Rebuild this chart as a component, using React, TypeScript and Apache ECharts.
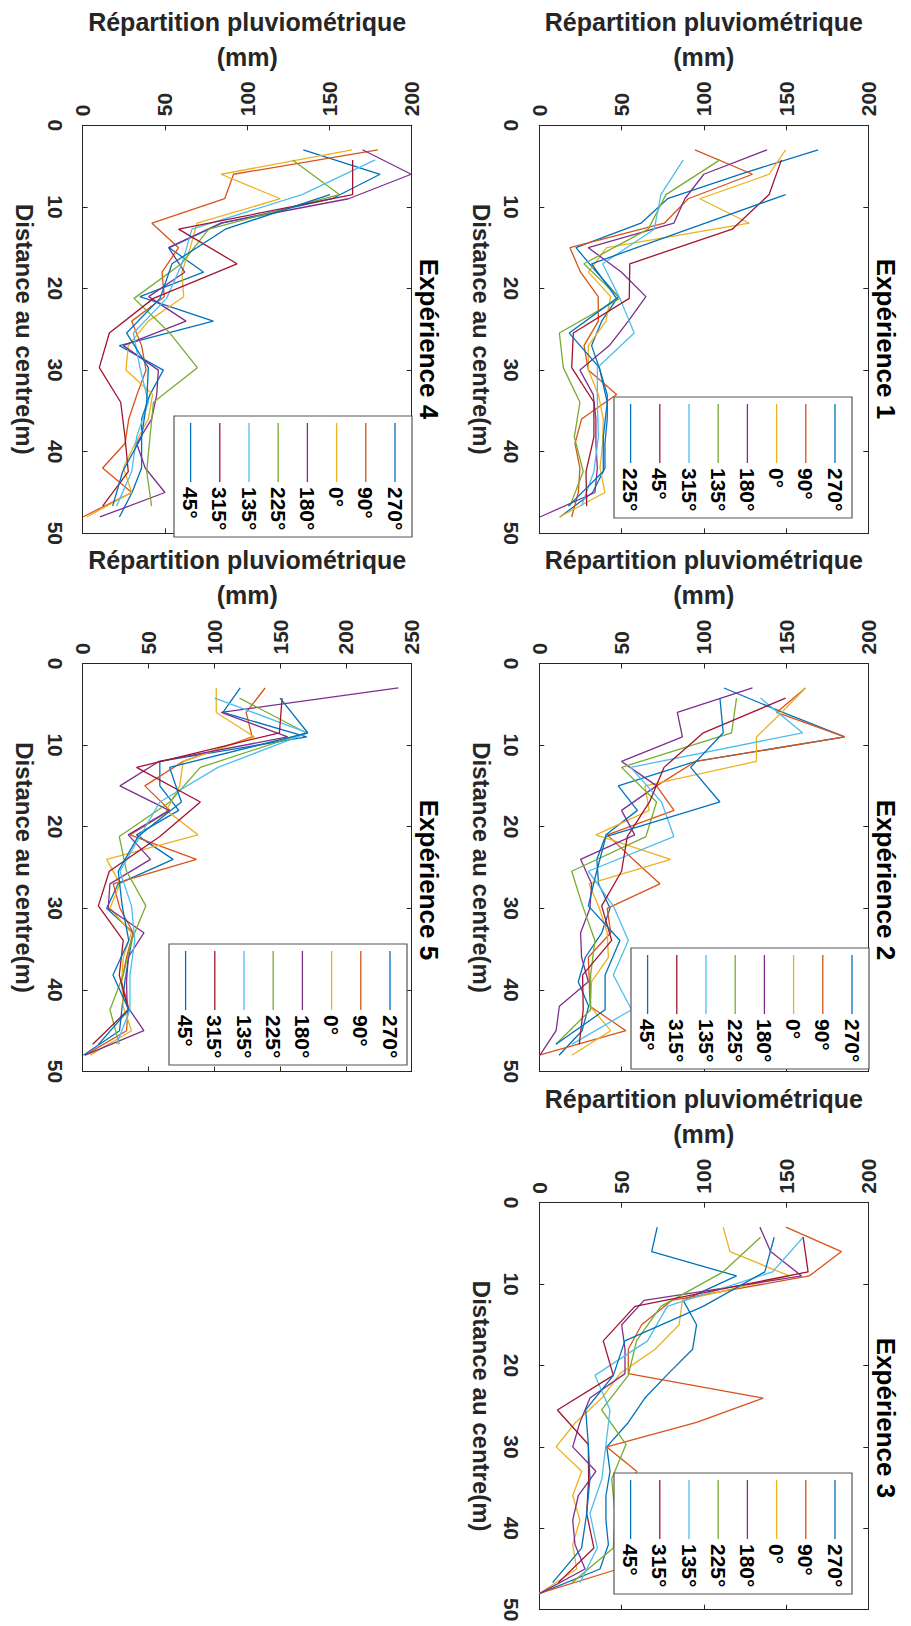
import React, { useEffect, useRef } from 'react';
import * as echarts from 'echarts';

// Distances (m) of the gauges: cardinal directions every 3 m, diagonal directions every 3·√2 m
const cardinalDistances = [3, 6, 9, 12, 15, 18, 21, 24, 27, 30, 33, 36, 39, 42, 45, 48];
const diagonalDistances = [4.24, 8.49, 12.73, 16.97, 21.21, 25.46, 29.7, 33.94, 38.18, 42.43, 46.67];

// Expérience 1 (mm)
const exp1_270 = [169.5, 122, 78, 61.8, 22.3, 34.8, 48, 37.9, 31.8, 36.9, 41.3, 41.3, 39.9, 39.9, 32.4, 12.6];
const exp1_90 = [94.6, 129.6, 90.5, 76, 18.6, 25.1, 35.8, 35.9, 27.2, 29.8, 47, 25.7, 21.7, 24.7, 23.7, 19.7];
const exp1_0 = [149.7, 139.7, 97.6, 127.6, 40.9, 29.8, 43.4, 40.5, 29.8, 29.8, 35.9, 38.9, 38.5, 36.9, 39.9, 12.2];
const exp1_180 = [138.5, 100, 88.5, 81.8, 29.8, 50, 64.8, 54.1, 42.6, 24.7, 32.8, 34.4, 34.4, 35.3, 33.8, 0.4];
const exp1_135 = [109.8, 77, 66.2, 27.1, 49, 12.2, 14.6, 24.7, 21.3, 26.7, 18.6];
const exp1_315 = [87.5, 73.9, 69.9, 38.5, 49, 57.7, 35.3, 35.3, 35.9, 33.2, 25.7];
const exp1_45 = [147.2, 139.7, 117.3, 55, 54.7, 20.7, 19.7, 33.2, 33.2, 28.4, 28.8];
const exp1_225 = [null, 149.7, 90.7, 31.8, 47, 18.2, 36.5, 41.3, 38.9, 38.9, 17.6];

// Expérience 2
const exp2_270 = [112.3, 148, 185.7, 95, 48, 59.6, 40.5, 35, 36, 43, 38, 28, 23.7, 30, 26, 12];
const exp2_90 = [161.8, 144.2, 185.7, 95, 71.3, 81.9, 41.3, 57, 73.3, 41.3, 43.4, 29.8, 30.4, 30.8, 52.7, 0];
const exp2_0 = [161.8, 147.3, 132, 132, 64.2, 66.8, 34.4, 79.8, 30.2, 36.5, 41.3, 42, 31.8, 30.8, 43.4, 19.7];
const exp2_180 = [129.6, 83.9, 87, 50, 71.3, 50, 58, 25.1, 31.8, 30.8, 25.1, 25.7, 29.8, 12.2, 10.2, 0.4];
const exp2_225 = [119.9, 116.9, 50, 71.3, 64.8, 19.7, 26.3, 33.8, 31.2, 31.2, 10.1];
const exp2_135 = [134.5, 160, 55.5, 74.3, 81.8, 29.8, 45, 54.1, 45, 56.1, 19.7];
const exp2_315 = [149.7, 99.7, 75.8, 67, 53.5, 50, 37.9, 44, 26.3, 26.7, 24.3];
const exp2_45 = [109.8, 111.8, 92, 109.8, 40.5, 34.9, 29.8, 49, 40, 40, 10.1];

// Expérience 3
const exp3_270 = [71.7, 68.3, 119.9, 87.5, 95.6, 93.2, 78.4, 64.2, 54.1, 41, 43, 40.5, 40.5, 42, 36.9, 0.4];
const exp3_90 = [149.9, 183.7, 164.1, 80.5, 62.2, 54.1, 54.1, 136.1, 95.6, 41, 59.2, 55, 52, 50, 48, 0];
const exp3_0 = [111.8, 115.9, 152, 87, 85, 70.4, 49, 38, 22, 10.2, 25.8, 20.3, 24.7, 20.3, 22.7, 0];
const exp3_180 = [134.1, 140.6, 159.5, 63.7, 50.1, 52.1, 52.1, 30.8, 24.7, 20.3, 34.4, 23.7, 20.3, 21.7, 27.8, 0.4];
const exp3_225 = [134.5, 111.8, 73.9, 59.1, 54.1, 37.9, 52.7, 44, 46, 45, 20];
const exp3_135 = [160.4, 141.8, 77.8, 65.8, 33.8, 43, 40.5, 38, 30.8, 35.3, 24.7];
const exp3_315 = [160.4, 163.4, 58.1, 38.9, 45, 11, 29.8, 30, 28.8, 33.2, 11.6];
const exp3_45 = [142.8, 137.1, 99.6, 52, 45, 28.2, 29.8, 30.8, 28.8, 25.7, 8.1];

// Expérience 4
const exp4_270 = [134.1, 180.8, 151.5, 84.6, 52.6, 73.5, 34.8, 79.4, 22.3, 49, 40.9, 35.8, 35.8, 35.8, 30, 22.3];
const exp4_90 = [179.4, 91.7, 86.3, 42.1, 58.3, 48.2, 49.6, 29.8, 35.8, 38.5, 33, 28, 25.7, 12.1, 29.8, 0];
const exp4_0 = [163.6, 84.2, 120.1, 69.5, 65.4, 60.3, 61.4, 39.9, 27.7, 26.3, 42.5, 39.9, 31.8, 24.7, 29.8, 2.4];
const exp4_180 = [170.1, 199.7, 161.6, 83.6, 52.2, 62, 40.1, 62.8, 24.7, 46, 45, 41.9, 32.8, 38, 50, 10.5];
const exp4_225 = [127.6, 156, 76.6, 60, 31.2, 53, 69.7, 43, 40.9, 38.9, 41.9];
const exp4_135 = [177.8, 133.3, 66.4, 60.3, 51, 30.8, 34.8, 39.9, 32.8, 29.8, 20.6];
const exp4_315 = [164.1, 164.1, 58.3, 93.8, 43, 16.2, 10.1, 23.1, 25.7, 27.7, 12.1];
const exp4_45 = [null, 150.3, 86.7, 54.3, 47, 26.7, 39.9, 38.9, 35.8, 24.3, 18.2];

// Expérience 5
const exp5_270 = [119.7, 106.6, 170.2, 58.6, 58.6, 73, 40.9, 68.7, 27, 18.2, 38.4, 35, 32, 30, 28, 0.5];
const exp5_90 = [138.6, 124.2, 128.8, 76.3, 47.2, 66.2, 35.9, 86.4, 23.2, 28.3, 38.4, 33.3, 29.5, 34.6, 33.3, 1.8];
const exp5_0 = [101.5, 101.5, 130.6, 76.3, 73.7, 63.6, 87.6, 18.2, 28.3, 20.7, 37.1, 30.8, 29.5, 30.8, 37.1, 5.6];
const exp5_180 = [239.9, 105.3, 155.8, 58, 28.3, 65.7, 34.6, 51.5, 20.7, 19.4, 46.5, 34.6, 33.3, 33.8, 46.5, 1.8];
const exp5_225 = [119.2, 169.7, 89.4, 66.2, 27.8, 33.3, 48, 37.1, 30.8, 20.7, 27.8];
const exp5_135 = [100.3, 171, 102.8, 58.6, 43.4, 28.3, 37.1, 39.6, 35.9, 35.9, 25.8];
const exp5_315 = [151.5, 149.5, 40.9, 89.4, 58.6, 20.2, 11.9, 30.8, 27.8, 34.6, 7.6];
const exp5_45 = [150, 171, 66, 75, 42, 27, 30, 35, 23, 35, 12];

const titles = ['Expérience 1', 'Expérience 2', 'Expérience 3', 'Expérience 4', 'Expérience 5'];
const rainAxisName = 'Répartition pluviométrique\n(mm)';
const distanceAxisName = 'Distance au centre(m)';
const rainMaxima = [200, 200, 200, 200, 250];

const C_BLUE = '#0072BD';
const C_ORANGE = '#D95319';
const C_YELLOW = '#EDB120';
const C_PURPLE = '#7E2F8E';
const C_GREEN = '#77AC30';
const C_LIGHTBLUE = '#4DBEEE';
const C_DARKRED = '#A2142F';

type S = { name: string; values: (number | null)[]; diag: boolean; color: string };

const panelSeries: S[][] = [
  [
    { name: '270°', values: exp1_270, diag: false, color: C_BLUE },
    { name: '90°', values: exp1_90, diag: false, color: C_ORANGE },
    { name: '0°', values: exp1_0, diag: false, color: C_YELLOW },
    { name: '180°', values: exp1_180, diag: false, color: C_PURPLE },
    { name: '135°', values: exp1_135, diag: true, color: C_GREEN },
    { name: '315°', values: exp1_315, diag: true, color: C_LIGHTBLUE },
    { name: '45°', values: exp1_45, diag: true, color: C_DARKRED },
    { name: '225°', values: exp1_225, diag: true, color: C_BLUE },
  ],
  [
    { name: '270°', values: exp2_270, diag: false, color: C_BLUE },
    { name: '90°', values: exp2_90, diag: false, color: C_ORANGE },
    { name: '0°', values: exp2_0, diag: false, color: C_YELLOW },
    { name: '180°', values: exp2_180, diag: false, color: C_PURPLE },
    { name: '225°', values: exp2_225, diag: true, color: C_GREEN },
    { name: '135°', values: exp2_135, diag: true, color: C_LIGHTBLUE },
    { name: '315°', values: exp2_315, diag: true, color: C_DARKRED },
    { name: '45°', values: exp2_45, diag: true, color: C_BLUE },
  ],
  [
    { name: '270°', values: exp3_270, diag: false, color: C_BLUE },
    { name: '90°', values: exp3_90, diag: false, color: C_ORANGE },
    { name: '0°', values: exp3_0, diag: false, color: C_YELLOW },
    { name: '180°', values: exp3_180, diag: false, color: C_PURPLE },
    { name: '225°', values: exp3_225, diag: true, color: C_GREEN },
    { name: '135°', values: exp3_135, diag: true, color: C_LIGHTBLUE },
    { name: '315°', values: exp3_315, diag: true, color: C_DARKRED },
    { name: '45°', values: exp3_45, diag: true, color: C_BLUE },
  ],
  [
    { name: '270°', values: exp4_270, diag: false, color: C_BLUE },
    { name: '90°', values: exp4_90, diag: false, color: C_ORANGE },
    { name: '0°', values: exp4_0, diag: false, color: C_YELLOW },
    { name: '180°', values: exp4_180, diag: false, color: C_PURPLE },
    { name: '225°', values: exp4_225, diag: true, color: C_GREEN },
    { name: '135°', values: exp4_135, diag: true, color: C_LIGHTBLUE },
    { name: '315°', values: exp4_315, diag: true, color: C_DARKRED },
    { name: '45°', values: exp4_45, diag: true, color: C_BLUE },
  ],
  [
    { name: '270°', values: exp5_270, diag: false, color: C_BLUE },
    { name: '90°', values: exp5_90, diag: false, color: C_ORANGE },
    { name: '0°', values: exp5_0, diag: false, color: C_YELLOW },
    { name: '180°', values: exp5_180, diag: false, color: C_PURPLE },
    { name: '225°', values: exp5_225, diag: true, color: C_GREEN },
    { name: '135°', values: exp5_135, diag: true, color: C_LIGHTBLUE },
    { name: '315°', values: exp5_315, diag: true, color: C_DARKRED },
    { name: '45°', values: exp5_45, diag: true, color: C_BLUE },
  ],
];

// Layout (pixels)
const layout = [
  { left: 539.3, top: 125.3, height: 408, legendRight: 852, legendBottom: 518, titleX: 886, titleY: 339 },
  { left: 539.3, top: 663.5, height: 408, legendRight: 869, legendBottom: 1069, titleX: 886, titleY: 880 },
  { left: 539.3, top: 1202.7, height: 407, legendRight: 852, legendBottom: 1594, titleX: 886, titleY: 1418 },
  { left: 82.7, top: 125.3, height: 408, legendRight: 412, legendBottom: 537, titleX: 429, titleY: 339 },
  { left: 82.7, top: 663.5, height: 408, legendRight: 407, legendBottom: 1065, titleX: 429, titleY: 880 },
];
const PLOT_W = 329;
const LEG_W = 238;
const LEG_H = 121;
const FONT = "'Liberation Sans', Arial, Helvetica, sans-serif";
const AX = '#262626';

function buildOption() {
  const grid: any[] = [];
  const xAxis: any[] = [];
  const yAxis: any[] = [];
  const series: any[] = [];
  const graphic: any[] = [];

  layout.forEach((L, i) => {
    grid.push({ left: L.left, top: L.top, width: PLOT_W, height: L.height, containLabel: false });
    const common = {
      type: 'value',
      gridIndex: i,
      min: 0,
      max: rainMaxima[i],
      interval: 50,
      splitLine: { show: false },
      axisLine: { show: true, onZero: false, lineStyle: { color: AX, width: 1 } },
      axisTick: { show: true, inside: true, length: 5, lineStyle: { color: AX, width: 1 } },
    };
    xAxis.push({
      ...common,
      position: 'top',
      name: rainAxisName,
      nameLocation: 'middle',
      nameGap: 51,
      nameTextStyle: { fontFamily: FONT, fontSize: 25, fontWeight: 'bold', color: AX, lineHeight: 35 },
      axisLabel: { rotate: -90, margin: 9, fontFamily: FONT, fontSize: 21, fontWeight: 'bold', color: AX },
    });
    xAxis.push({ ...common, position: 'bottom', axisLabel: { show: false } });
    const ycommon = {
      type: 'value',
      gridIndex: i,
      min: 0,
      max: 50,
      interval: 10,
      inverse: true,
      splitLine: { show: false },
      axisLine: { show: true, onZero: false, lineStyle: { color: AX, width: 1 } },
      axisTick: { show: true, inside: true, length: 5, lineStyle: { color: AX, width: 1 } },
    };
    yAxis.push({
      ...ycommon,
      position: 'left',
      name: distanceAxisName,
      nameLocation: 'middle',
      nameRotate: -90,
      nameGap: 46,
      nameTextStyle: { fontFamily: FONT, fontSize: 24, fontWeight: 'bold', color: AX },
      axisLabel: { rotate: -90, margin: 17, fontFamily: FONT, fontSize: 21, fontWeight: 'bold', color: AX },
    });
    yAxis.push({ ...ycommon, position: 'right', axisLabel: { show: false } });

    panelSeries[i].forEach((s) => {
      const dists = s.diag ? diagonalDistances : cardinalDistances;
      const data: number[][] = [];
      s.values.forEach((v, k) => {
        if (v !== null && v !== undefined) data.push([v, dists[k]]);
      });
      series.push({
        type: 'line',
        name: s.name,
        xAxisIndex: 2 * i,
        yAxisIndex: 2 * i,
        data,
        showSymbol: false,
        symbol: 'none',
        clip: true,
        silent: true,
        lineStyle: { color: s.color, width: 1.3 },
        itemStyle: { color: s.color },
        z: 2,
      });
    });

    // Legend (drawn rotated like the reference)
    const lx = L.legendRight - LEG_W;
    const ly = L.legendBottom - LEG_H;
    graphic.push({
      type: 'rect',
      z: 100,
      shape: { x: lx, y: ly, width: LEG_W, height: LEG_H },
      style: { fill: '#ffffff', stroke: '#555555', lineWidth: 1.2 },
      silent: true,
    });
    panelSeries[i].forEach((s, k) => {
      const ex = L.legendRight - 17 - 29.2 * k;
      graphic.push({
        type: 'line',
        z: 101,
        shape: { x1: ex, y1: ly + 7, x2: ex, y2: ly + 66 },
        style: { stroke: s.color, lineWidth: 1.3 },
        silent: true,
      });
      graphic.push({
        type: 'text',
        z: 101,
        x: ex,
        y: ly + 71,
        rotation: -Math.PI / 2,
        style: {
          text: s.name,
          fontFamily: FONT,
          fontSize: 21,
          fontWeight: 'bold',
          fill: '#000000',
          align: 'left',
          verticalAlign: 'middle',
        },
        silent: true,
      });
    });

    graphic.push({
      type: 'text',
      z: 100,
      x: L.titleX,
      y: L.titleY,
      rotation: -Math.PI / 2,
      style: {
        text: titles[i],
        fontFamily: FONT,
        fontSize: 26,
        fontWeight: 'bold',
        fill: '#000000',
        align: 'center',
        verticalAlign: 'middle',
      },
      silent: true,
    });
  });

  return {
    animation: false,
    backgroundColor: '#ffffff',
    textStyle: { fontFamily: FONT },
    grid,
    xAxis,
    yAxis,
    series,
    graphic,
  };
}

export default function App() {
  const ref = useRef<HTMLDivElement>(null);
  useEffect(() => {
    if (!ref.current) return;
    const chart = echarts.init(ref.current, undefined, { renderer: 'svg' });
    chart.setOption(buildOption() as any);
    return () => chart.dispose();
  }, []);
  return (
    <div
      ref={ref}
      style={{ position: 'absolute', left: 0, top: 0, width: 911, height: 1626, background: '#ffffff' }}
    />
  );
}
